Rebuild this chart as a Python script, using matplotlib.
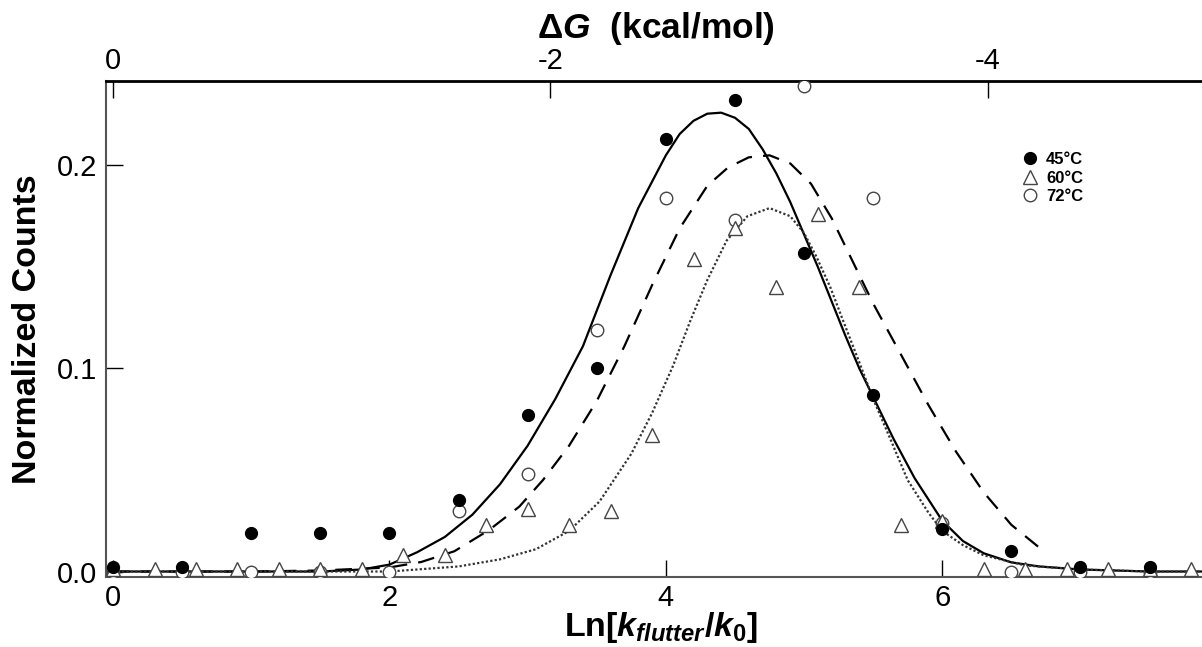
import numpy as np
import matplotlib
matplotlib.use("Agg")
import matplotlib.pyplot as plt

plt.rcParams['font.family'] = ['Liberation Sans', 'DejaVu Sans']
plt.rcParams['mathtext.fontset'] = 'custom'
plt.rcParams['mathtext.it'] = 'Liberation Sans:italic:bold'
plt.rcParams['mathtext.rm'] = 'Liberation Sans:bold'

# measured points
x_45 = [0, 0.5, 1.0, 1.5, 2.0, 2.5, 3.0, 3.5, 4.0, 4.5, 5.0, 5.5, 6.0, 6.5, 7.0, 7.5]
y_45 = [0.002, 0.002, 0.019, 0.019, 0.019, 0.035, 0.077, 0.100, 0.213, 0.232,
        0.157, 0.087, 0.021, 0.010, 0.002, 0.002]

x_60 = [0, 0.3, 0.6, 0.9, 1.2, 1.5, 1.8, 2.1, 2.4, 2.7, 3.0, 3.3, 3.6, 3.9,
        4.2, 4.5, 4.8, 5.1, 5.4, 5.7, 6.0, 6.3, 6.6, 6.9, 7.2, 7.5, 7.8]
y_60 = [0.001, 0.001, 0.001, 0.001, 0.001, 0.001, 0.001, 0.008, 0.008, 0.023,
        0.031, 0.023, 0.030, 0.067, 0.154, 0.169, 0.140, 0.176, 0.140, 0.023,
        0.025, 0.001, 0.001, 0.001, 0.001, 0.001, 0.001]

x_72 = [0, 0.5, 1.0, 1.5, 2.0, 2.5, 3.0, 3.5, 4.0, 4.5, 5.0, 5.5, 6.0, 6.5, 7.0, 7.5]
y_72 = [0.0, 0.0, 0.0, 0.0, 0.0, 0.030, 0.048, 0.119, 0.184, 0.173,
        0.239, 0.184, 0.024, 0.0, 0.0, 0.0]

# fitted curves
fit_45_x = [0, 1.0, 1.5, 1.8, 2.0, 2.2, 2.4, 2.6, 2.8, 3.0, 3.2, 3.4, 3.6, 3.8,
            4.0, 4.1, 4.2, 4.3, 4.4, 4.5, 4.6, 4.7, 4.8, 4.9, 5.0, 5.1, 5.2,
            5.3, 5.4, 5.5, 5.65, 5.8, 6.0, 6.15, 6.3, 6.5, 6.7, 7.0, 7.5, 7.9]
fit_45_y = [0.0, 0.0, 0.0, 0.001, 0.0034, 0.0095, 0.017, 0.028, 0.043, 0.062,
            0.085, 0.111, 0.146, 0.179, 0.205, 0.2155, 0.222, 0.2255, 0.226,
            0.2235, 0.218, 0.208, 0.196, 0.182, 0.166, 0.150, 0.133, 0.116,
            0.100, 0.086, 0.065, 0.046, 0.025, 0.015, 0.009, 0.0045, 0.0025,
            0.001, 0.0, 0.0]

fit_60_x = [0, 1.0, 1.5, 2.0, 2.23, 2.47, 2.72, 2.94, 3.11, 3.3, 3.5, 3.7, 3.9,
            4.1, 4.3, 4.45, 4.6, 4.75, 4.9, 5.05, 5.2, 5.35, 5.5, 5.7, 5.9,
            6.1, 6.3, 6.5, 6.72]
fit_60_y = [0.0, 0.0, 0.0005, 0.002, 0.0047, 0.010, 0.0204, 0.032, 0.045, 0.062,
            0.084, 0.111, 0.141, 0.169, 0.190, 0.199, 0.204, 0.205, 0.201, 0.191,
            0.174, 0.153, 0.132, 0.107, 0.082, 0.059, 0.039, 0.023, 0.0108]

fit_72_x = [0, 1.5, 2.0, 2.5, 2.8, 3.06, 3.3, 3.52, 3.75, 3.9, 4.05, 4.18, 4.30,
            4.44, 4.59, 4.75, 4.9, 5.0, 5.09, 5.19, 5.28, 5.4, 5.5, 5.62, 5.75,
            5.9, 6.0, 6.15, 6.3, 6.6, 7.0, 7.5, 7.9]
fit_72_y = [0.0, 0.0, 0.0, 0.0025, 0.006, 0.011, 0.02, 0.0345, 0.058, 0.078,
            0.101, 0.124, 0.1436, 0.163, 0.175, 0.179, 0.175, 0.1667, 0.155,
            0.140, 0.124, 0.103, 0.085, 0.066, 0.045, 0.029, 0.020, 0.013,
            0.008, 0.003, 0.001, 0.0, 0.0]

RT = 0.632  # kcal/mol at 45 C

fig = plt.figure(figsize=(12.02, 6.47), dpi=100)
ax = fig.add_axes([105.5 / 1202, 70 / 647, 1100 / 1202, 496 / 647])

ax.plot(fit_45_x, fit_45_y, color='black', lw=1.6, ls='-')
ax.plot(fit_60_x, fit_60_y, color='black', lw=1.6, ls=(0, (7.5, 5)))
ax.plot(fit_72_x, fit_72_y, color='#333333', lw=1.6, ls=(0, (1, 1)))

ax.plot(x_72, y_72, 'o', ms=9, mfc='white', mec='#444444', mew=1, label='72°C', zorder=3)
ax.plot(x_60, y_60, '^', ms=10, mfc='white', mec='#444444', mew=1, label='60°C', zorder=3)
ax.plot(x_45, y_45, 'o', ms=8.5, mfc='black', mec='black', label='45°C', zorder=4)

ax.set_xlim(-0.055, 7.905)
ax.set_ylim(-0.0027, 0.2416)
ax.set_xticks([0, 2, 4, 6])
ax.set_yticks([0.0, 0.1, 0.2])
ax.set_yticklabels(['0.0', '0.1', '0.2'])
ax.tick_params(direction='in', length=12, width=1, labelsize=21, pad=6)
ax.tick_params(axis='x', pad=5)

for s in ['left', 'bottom']:
    ax.spines[s].set_color('#555555')
    ax.spines[s].set_linewidth(1.5)
ax.spines['right'].set_visible(False)
ax.spines['top'].set_color('black')
ax.spines['top'].set_linewidth(2)

ax.set_ylabel('Normalized Counts', fontsize=24.5, fontweight='bold', labelpad=10)
ax.set_xlabel(r'Ln[$k_{flutter}/k_{0}$]', fontsize=24.5, fontweight='bold')
ax.xaxis.set_label_coords(555 / 1100, -0.066)

top = ax.secondary_xaxis('top', functions=(lambda v: -RT * v, lambda g: -g / RT))
top.set_xticks([0, -2, -4])
top.set_xticklabels(['0', '-2', '-4'])
top.tick_params(direction='in', length=12, width=1, labelsize=21, pad=4)
top.set_xlabel(r'Δ$G$  (kcal/mol)', fontsize=25.5, fontweight='bold', labelpad=7)

h, l = ax.get_legend_handles_labels()
order = [2, 1, 0]
ax.legend([h[i] for i in order], [l[i] for i in order], loc='upper left',
          bbox_to_anchor=(1012 / 1202, 1 - 144 / 647), bbox_transform=fig.transFigure,
          frameon=False, prop={'weight': 'bold', 'size': 12},
          handletextpad=0.35, labelspacing=0.2, handlelength=1.2, borderpad=0)

fig.savefig('out.png', dpi=100)
